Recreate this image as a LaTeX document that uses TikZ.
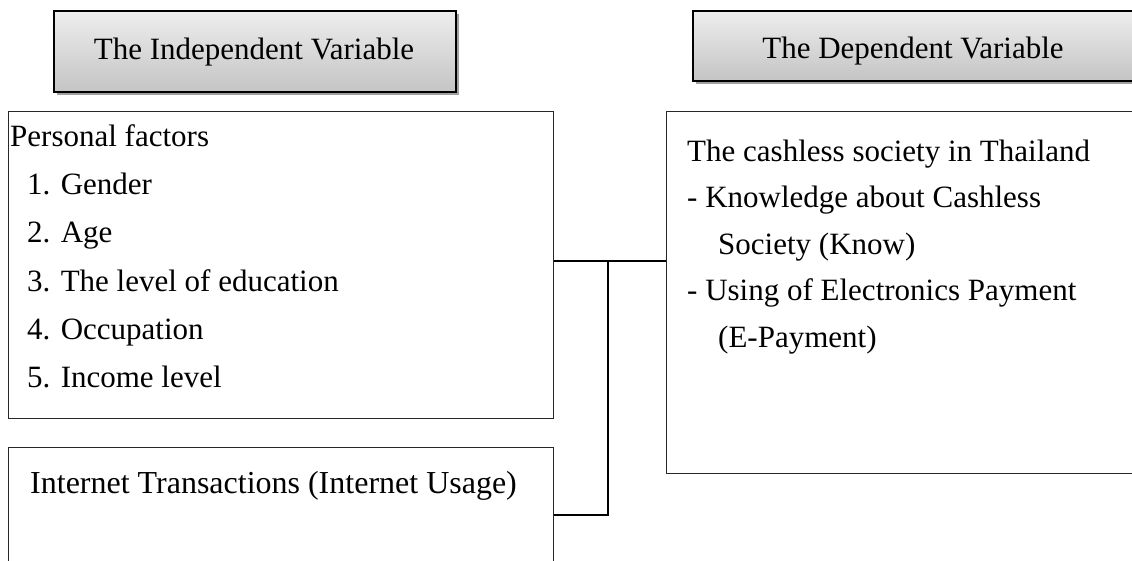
\documentclass[tikz,border=0pt]{standalone}
\usepackage{fontspec}
\setmainfont{Liberation Serif}
\usetikzlibrary{shadows}
\definecolor{headtop}{RGB}{238,238,238}
\definecolor{headbot}{RGB}{196,196,196}
\definecolor{shade}{RGB}{160,160,160}
\definecolor{edge}{RGB}{40,40,40}
\tikzset{
  headbox/.style={draw=black, line width=1.6pt, top color=headtop, bottom color=headbot,
    drop shadow={shadow xshift=3.5pt, shadow yshift=-3.5pt, fill=shade, opacity=1},
    anchor=north west, inner sep=0pt},
  framebox/.style={draw=edge, line width=1.3pt, anchor=north west, inner sep=0pt, fill=white},
  txt/.style={anchor=base west, inner sep=0pt, font=\fontsize{31}{37}\selectfont},
  headtxt/.style={anchor=base, inner sep=0pt, font=\fontsize{31}{37}\selectfont},
  link/.style={draw=black, line width=1.3pt}
}
\begin{document}
\begin{tikzpicture}[x=1pt, y=-1pt]
\useasboundingbox (0,0) rectangle (1132,561);
\clip (0,0) rectangle (1132,561);
\fill[white] (0,0) rectangle (1132,561);

% headings
\node[headbox, minimum width=402pt, minimum height=81pt] (ivh) at (53,10) {};
\node[headtxt] (ivt) at (254,60) {The Independent Variable};
\node[headbox, minimum width=444pt, minimum height=70pt] (dvh) at (692,10) {};
\node[headtxt] (dvt) at (913,58.5) {The Dependent Variable};

% personal factors
\node[framebox, minimum width=545pt, minimum height=307pt] (pf) at (8,111) {};
\node[txt] (pf0) at (10,147) {Personal factors};
\node[txt] (pf1) at (27,195) {1. Gender};
\node[txt] (pf2) at (27,243) {2. Age};
\node[txt] (pf3) at (27,291) {3. The level of education};
\node[txt] (pf4) at (27,339) {4. Occupation};
\node[txt] (pf5) at (27,387) {5. Income level};

% internet usage
\node[framebox, minimum width=545pt, minimum height=140pt] (iu) at (8,447) {};
\node[txt, font=\fontsize{32}{38}\selectfont] (iu0) at (30,493) {Internet Transactions (Internet Usage)};

% dependent variable
\node[framebox, minimum width=480pt, minimum height=362pt] (dv) at (666,111) {};
\node[txt] (dv0) at (687,162) {The cashless society in Thailand};
\node[txt] (dv1) at (687,208) {- Knowledge about Cashless};
\node[txt] (dv2) at (718,255) {Society (Know)};
\node[txt] (dv3) at (687,301) {- Using of Electronics Payment};
\node[txt] (dv4) at (718,347) {(E-Payment)};

% connectors
\coordinate (j1) at (608,261);
\coordinate (j2) at (608,515);
\draw[link] (pf.east |- j1) -- (dv.west |- j1);
\draw[link] (iu.east |- j2) -- (j2) -- (j1);
\end{tikzpicture}
\end{document}
